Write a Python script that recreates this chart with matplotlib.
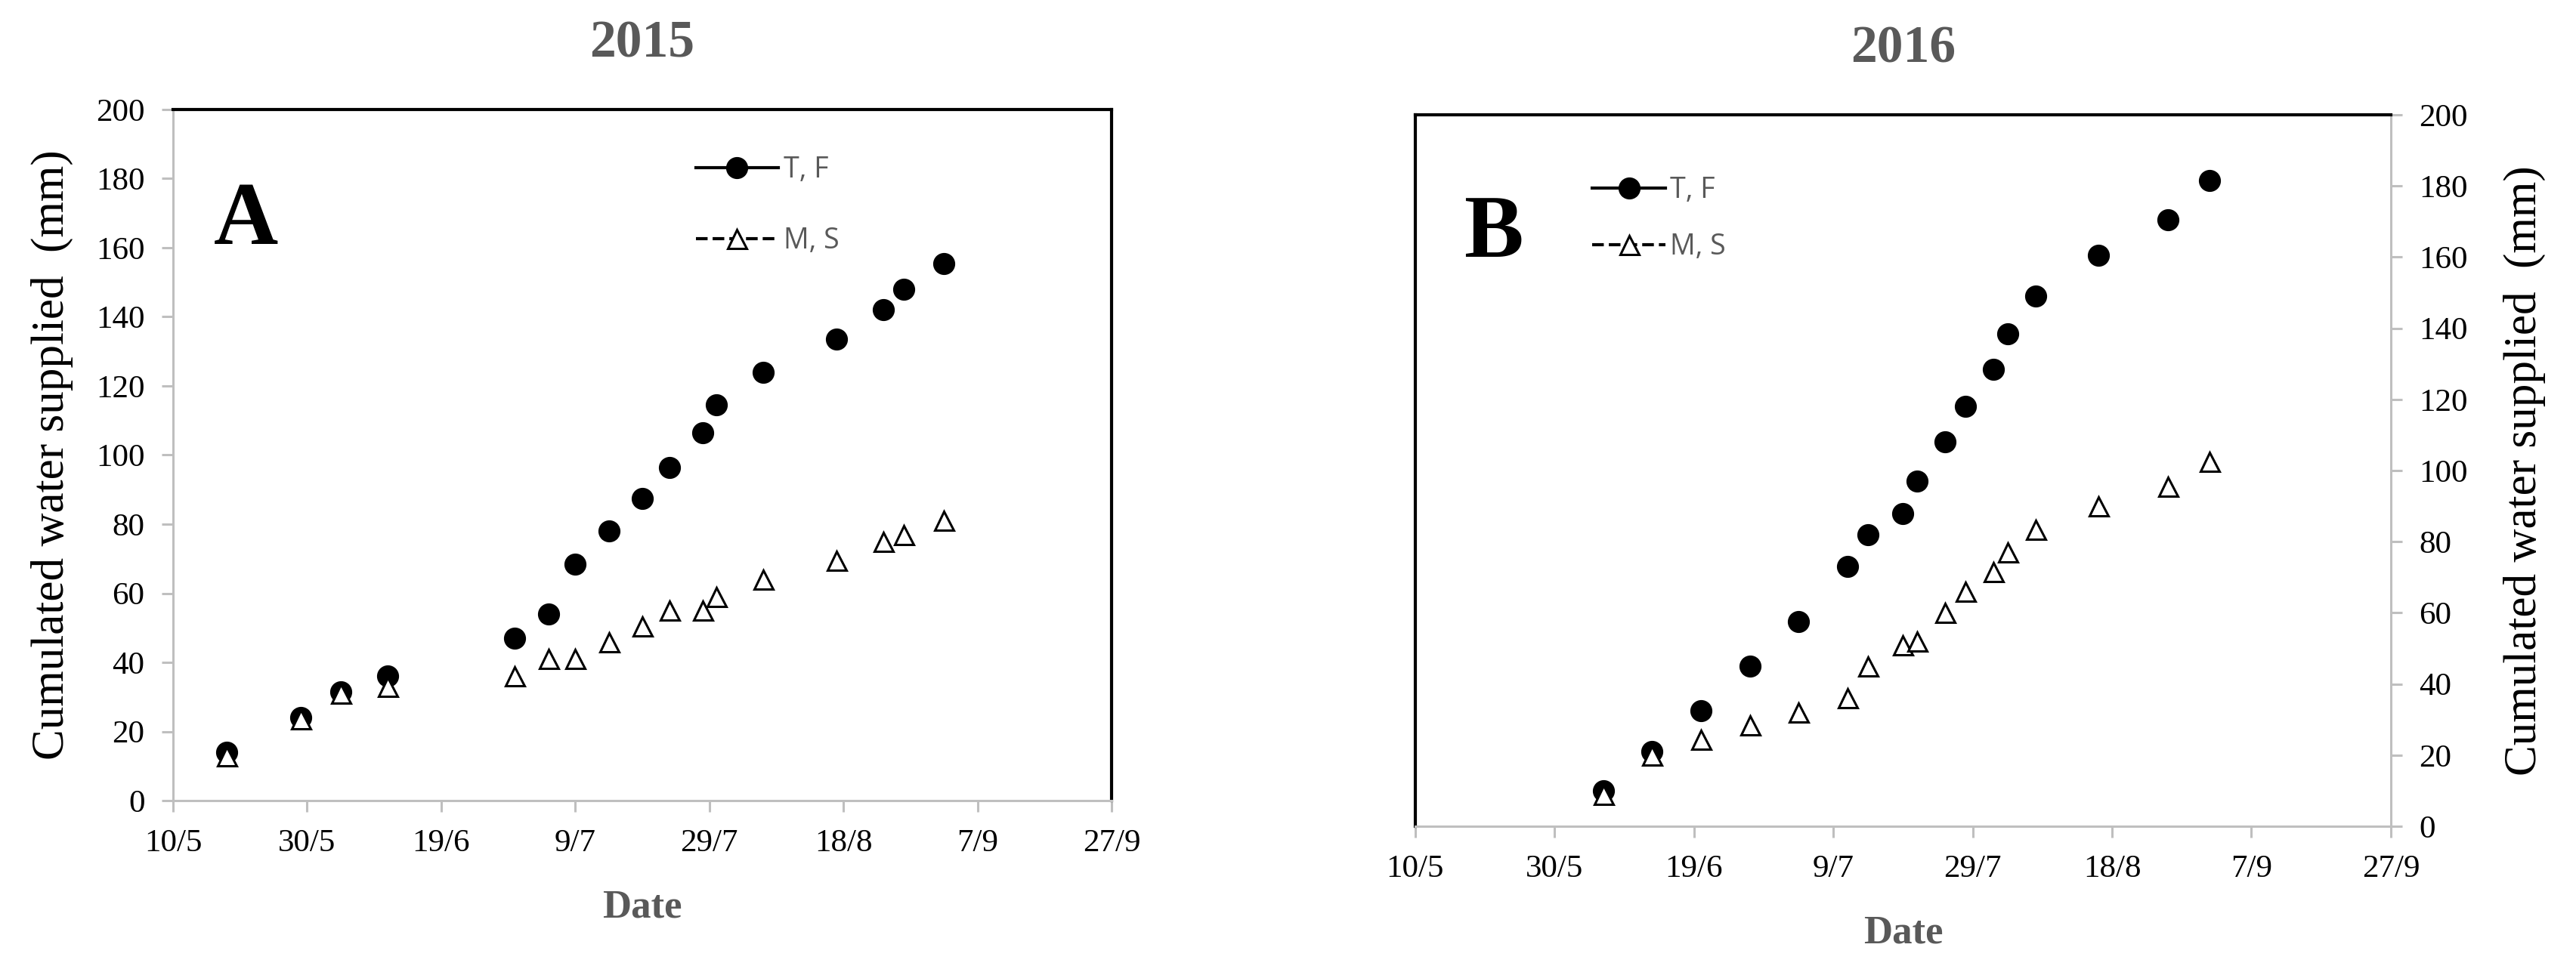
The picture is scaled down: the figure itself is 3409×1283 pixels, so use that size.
import pandas as pd
import matplotlib
matplotlib.use("Agg")
import matplotlib.pyplot as plt
from matplotlib.lines import Line2D

# data
dates_2015 = ["18/5", "29/5", "4/6", "11/6", "30/6", "5/7", "9/7", "14/7", "19/7",
              "23/7", "28/7", "30/7", "6/8", "17/8", "24/8", "27/8", "2/9"]
tf_2015 = [14, 24, 31.5, 36, 47, 54, 68.5, 78, 87.5, 96.5, 106.5, 114.5, 124, 133.5, 142, 148, 155.5]
ms_2015 = [13, 23.5, 31, 33, 36, 41, 41, 46, 50.5, 55, 55, 59, 64, 69.5, 75, 77, 81]

dates_2016 = ["6/6", "13/6", "20/6", "27/6", "4/7", "11/7", "14/7", "19/7", "21/7",
              "25/7", "28/7", "1/8", "3/8", "7/8", "16/8", "26/8", "1/9"]
tf_2016 = [10, 21, 32.5, 45, 57.5, 73, 82, 88, 97, 108, 118, 128.5, 138.5, 149, 160.5, 170.5, 181.5]
ms_2016 = [9, 20, 24.5, 28.5, 32, 36, 45, 51, 52, 60, 66, 71.5, 77, 83.5, 90, 95.5, 102.5]

tick_labels = ["10/5", "30/5", "19/6", "9/7", "29/7", "18/8", "7/9", "27/9"]
y_ticks = [0, 20, 40, 60, 80, 100, 120, 140, 160, 180, 200]

serif = ["Liberation Serif", "DejaVu Serif"]
plt.rcParams["font.family"] = serif
gray_txt = "#595959"
axis_gray = "#bfbfbf"


def to_dates(lst, year):
    return pd.to_datetime([f"{d}/{year}" for d in lst], format="%d/%m/%Y")


fig = plt.figure(figsize=(34.09, 12.83), dpi=100)
axA = fig.add_axes([0.0672, 0.1738, 0.3643, 0.7132])
axB = fig.add_axes([0.5494, 0.1473, 0.3787, 0.7342])


def draw(ax, dates, tf, ms, year, right):
    x = to_dates(dates, year)
    ax.plot(x, tf, linestyle="none", marker="o", markersize=20, color="black")
    ax.plot(x, ms, linestyle="none", marker="^", markersize=18, markerfacecolor="white",
            markeredgecolor="black", markeredgewidth=2.2)

    ticks = to_dates(tick_labels, year)
    ax.set_xlim(ticks[0], ticks[-1])
    ax.set_xticks(ticks)
    ax.set_xticklabels(tick_labels)
    ax.set_ylim(0, 200)
    ax.set_yticks(y_ticks)

    ax.tick_params(axis="both", direction="out", length=11, width=2.2, color=axis_gray,
                   pad=16, labelsize=31)

    ax.spines["bottom"].set_color(axis_gray)
    ax.spines["bottom"].set_linewidth(2.2)
    if right:
        ax.yaxis.tick_right()
        ax.yaxis.set_label_position("right")
        ax.spines["right"].set_color(axis_gray)
        ax.spines["right"].set_linewidth(2.2)
        ax.spines["left"].set_color("black")
        ax.spines["left"].set_linewidth(3)
    else:
        ax.spines["left"].set_color(axis_gray)
        ax.spines["left"].set_linewidth(2.2)
        ax.spines["right"].set_color("black")
        ax.spines["right"].set_linewidth(3)
    ax.spines["top"].set_color("black")
    ax.spines["top"].set_linewidth(3)

    ax.set_ylabel("Cumulated water supplied  (mm)", fontsize=44, labelpad=34 if right else 22)
    ax.set_xlabel("Date", fontsize=38, fontweight="bold", color=gray_txt, labelpad=30)
    ax.set_title(str(year), fontsize=50, fontweight="bold", color=gray_txt, pad=50)

    handles = [
        Line2D([], [], color="black", linestyle="-", linewidth=3, marker="o", markersize=20),
        Line2D([], [], color="black", linestyle="--", linewidth=3, marker="^", markersize=18,
               markerfacecolor="white", markeredgewidth=2.2),
    ]
    return handles


hA = draw(axA, dates_2015, tf_2015, ms_2015, 2015, right=False)
hB = draw(axB, dates_2016, tf_2016, ms_2016, 2016, right=True)

leg_font = {"family": "Open Sans", "size": 27}
axA.legend(hA, ["T, F", "M, S"], loc="upper left", bbox_to_anchor=(0.53, 0.97),
           frameon=False, prop=leg_font, handlelength=2.9, labelspacing=1.5,
           handletextpad=0.2, labelcolor=gray_txt)
axB.legend(hB, ["T, F", "M, S"], loc="upper left", bbox_to_anchor=(0.155, 0.95),
           frameon=False, prop=leg_font, handlelength=2.6, labelspacing=1.0,
           handletextpad=0.15, labelcolor=gray_txt)

axA.text(0.043, 0.805, "A", transform=axA.transAxes, fontsize=85,
         fontweight="bold", color="black")
axB.text(0.05, 0.80, "B", transform=axB.transAxes, fontsize=85,
         fontweight="bold", color="black")

fig.savefig("out.png", dpi=100)
